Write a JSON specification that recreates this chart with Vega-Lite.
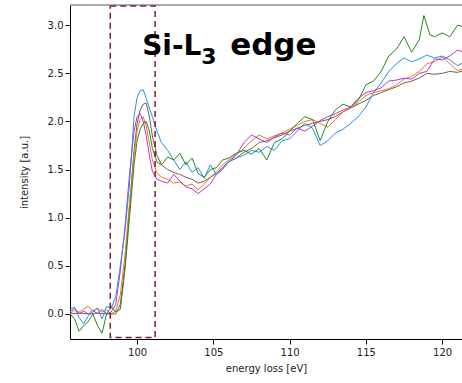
{
  "$schema": "https://vega.github.io/schema/vega-lite/v6.json",
  "width": 392,
  "height": 334,
  "autosize": {"type": "none"},
  "padding": {"left": 70, "top": 5, "right": 0, "bottom": 44},
  "background": "white",
  "config": {
    "view": {"stroke": null},
    "axis": {
      "grid": false,
      "domainColor": "#000",
      "tickColor": "#000",
      "tickSize": 5,
      "labelFont": "DejaVu Sans",
      "labelFontSize": 10,
      "labelColor": "#222",
      "titleFont": "DejaVu Sans",
      "titleFontSize": 10,
      "titleFontWeight": "normal",
      "titleColor": "#222"
    }
  },
  "datasets": {
    "spectra": [
      {"s":"brown","e":95.6,"v":0.0},{"s":"brown","e":96.2,"v":0.01},{"s":"brown","e":96.8,"v":0.0},{"s":"brown","e":97.4,"v":0.01},{"s":"brown","e":98.0,"v":0.0},{"s":"brown","e":98.6,"v":0.0},{"s":"brown","e":98.9,"v":0.1},{"s":"brown","e":99.2,"v":0.5},{"s":"brown","e":99.5,"v":1.1},{"s":"brown","e":99.8,"v":1.7},{"s":"brown","e":100.0,"v":1.98},{"s":"brown","e":100.2,"v":2.12},{"s":"brown","e":100.4,"v":2.18},{"s":"brown","e":100.6,"v":2.19},{"s":"brown","e":100.8,"v":2.05},{"s":"brown","e":101.0,"v":1.85},{"s":"brown","e":101.3,"v":1.65},{"s":"brown","e":101.6,"v":1.55},{"s":"brown","e":102.0,"v":1.5},{"s":"brown","e":102.4,"v":1.47},{"s":"brown","e":102.8,"v":1.45},{"s":"brown","e":103.2,"v":1.42},{"s":"brown","e":103.6,"v":1.4},{"s":"brown","e":104.0,"v":1.36},{"s":"brown","e":104.4,"v":1.38},{"s":"brown","e":104.8,"v":1.42},{"s":"brown","e":105.2,"v":1.46},{"s":"brown","e":105.6,"v":1.52},{"s":"brown","e":106.0,"v":1.58},{"s":"brown","e":106.5,"v":1.62},{"s":"brown","e":107.0,"v":1.68},{"s":"brown","e":107.5,"v":1.72},{"s":"brown","e":108.0,"v":1.78},{"s":"brown","e":108.5,"v":1.8},{"s":"brown","e":109.0,"v":1.83},{"s":"brown","e":109.5,"v":1.86},{"s":"brown","e":110.0,"v":1.9},{"s":"brown","e":110.5,"v":1.93},{"s":"brown","e":111.0,"v":1.96},{"s":"brown","e":111.5,"v":1.98},{"s":"brown","e":112.0,"v":2.0},{"s":"brown","e":112.5,"v":2.02},{"s":"brown","e":113.0,"v":2.05},{"s":"brown","e":113.5,"v":2.1},{"s":"brown","e":114.0,"v":2.14},{"s":"brown","e":114.5,"v":2.18},{"s":"brown","e":115.0,"v":2.22},{"s":"brown","e":115.5,"v":2.27},{"s":"brown","e":116.0,"v":2.3},{"s":"brown","e":116.5,"v":2.33},{"s":"brown","e":117.0,"v":2.36},{"s":"brown","e":117.5,"v":2.4},{"s":"brown","e":118.0,"v":2.42},{"s":"brown","e":118.5,"v":2.45},{"s":"brown","e":119.0,"v":2.5},{"s":"brown","e":119.5,"v":2.49},{"s":"brown","e":120.0,"v":2.5},{"s":"brown","e":120.5,"v":2.52},{"s":"brown","e":121.0,"v":2.51},{"s":"brown","e":121.5,"v":2.53},

      {"s":"orange","e":95.6,"v":0.0},{"s":"orange","e":95.9,"v":0.04},{"s":"orange","e":96.2,"v":0.02},{"s":"orange","e":96.5,"v":0.05},{"s":"orange","e":96.8,"v":0.08},{"s":"orange","e":97.1,"v":0.03},{"s":"orange","e":97.4,"v":0.06},{"s":"orange","e":97.7,"v":0.02},{"s":"orange","e":98.0,"v":0.04},{"s":"orange","e":98.3,"v":0.0},{"s":"orange","e":98.6,"v":0.03},{"s":"orange","e":98.9,"v":0.2},{"s":"orange","e":99.2,"v":0.6},{"s":"orange","e":99.5,"v":1.15},{"s":"orange","e":99.8,"v":1.65},{"s":"orange","e":100.0,"v":1.9},{"s":"orange","e":100.2,"v":2.02},{"s":"orange","e":100.4,"v":2.05},{"s":"orange","e":100.6,"v":1.95},{"s":"orange","e":100.8,"v":1.78},{"s":"orange","e":101.0,"v":1.6},{"s":"orange","e":101.3,"v":1.47},{"s":"orange","e":101.6,"v":1.42},{"s":"orange","e":102.0,"v":1.4},{"s":"orange","e":102.4,"v":1.36},{"s":"orange","e":102.8,"v":1.37},{"s":"orange","e":103.2,"v":1.33},{"s":"orange","e":103.6,"v":1.35},{"s":"orange","e":104.0,"v":1.29},{"s":"orange","e":104.4,"v":1.35},{"s":"orange","e":104.8,"v":1.42},{"s":"orange","e":105.2,"v":1.48},{"s":"orange","e":105.6,"v":1.55},{"s":"orange","e":106.0,"v":1.6},{"s":"orange","e":106.5,"v":1.66},{"s":"orange","e":107.0,"v":1.72},{"s":"orange","e":107.5,"v":1.8},{"s":"orange","e":108.0,"v":1.86},{"s":"orange","e":108.5,"v":1.82},{"s":"orange","e":109.0,"v":1.85},{"s":"orange","e":109.5,"v":1.88},{"s":"orange","e":110.0,"v":1.92},{"s":"orange","e":110.5,"v":1.96},{"s":"orange","e":111.0,"v":2.0},{"s":"orange","e":111.5,"v":2.02},{"s":"orange","e":112.0,"v":1.98},{"s":"orange","e":112.5,"v":1.94},{"s":"orange","e":113.0,"v":2.02},{"s":"orange","e":113.5,"v":2.1},{"s":"orange","e":114.0,"v":2.14},{"s":"orange","e":114.5,"v":2.2},{"s":"orange","e":115.0,"v":2.27},{"s":"orange","e":115.5,"v":2.3},{"s":"orange","e":116.0,"v":2.32},{"s":"orange","e":116.5,"v":2.34},{"s":"orange","e":117.0,"v":2.38},{"s":"orange","e":117.5,"v":2.44},{"s":"orange","e":118.0,"v":2.47},{"s":"orange","e":118.5,"v":2.52},{"s":"orange","e":119.0,"v":2.6},{"s":"orange","e":119.5,"v":2.62},{"s":"orange","e":120.0,"v":2.67},{"s":"orange","e":120.5,"v":2.6},{"s":"orange","e":121.0,"v":2.53},{"s":"orange","e":121.5,"v":2.55},

      {"s":"magenta","e":95.6,"v":0.02},{"s":"magenta","e":95.9,"v":0.06},{"s":"magenta","e":96.2,"v":0.0},{"s":"magenta","e":96.5,"v":0.03},{"s":"magenta","e":96.8,"v":0.0},{"s":"magenta","e":97.1,"v":0.04},{"s":"magenta","e":97.4,"v":0.0},{"s":"magenta","e":97.7,"v":0.05},{"s":"magenta","e":98.0,"v":0.0},{"s":"magenta","e":98.3,"v":0.02},{"s":"magenta","e":98.6,"v":0.1},{"s":"magenta","e":98.9,"v":0.45},{"s":"magenta","e":99.2,"v":0.9},{"s":"magenta","e":99.5,"v":1.45},{"s":"magenta","e":99.8,"v":1.9},{"s":"magenta","e":100.0,"v":2.05},{"s":"magenta","e":100.2,"v":2.08},{"s":"magenta","e":100.4,"v":2.0},{"s":"magenta","e":100.6,"v":1.85},{"s":"magenta","e":100.8,"v":1.65},{"s":"magenta","e":101.0,"v":1.48},{"s":"magenta","e":101.3,"v":1.4},{"s":"magenta","e":101.6,"v":1.38},{"s":"magenta","e":102.0,"v":1.36},{"s":"magenta","e":102.4,"v":1.45},{"s":"magenta","e":102.8,"v":1.38},{"s":"magenta","e":103.2,"v":1.32},{"s":"magenta","e":103.6,"v":1.3},{"s":"magenta","e":104.0,"v":1.25},{"s":"magenta","e":104.4,"v":1.3},{"s":"magenta","e":104.8,"v":1.35},{"s":"magenta","e":105.2,"v":1.45},{"s":"magenta","e":105.6,"v":1.52},{"s":"magenta","e":106.0,"v":1.58},{"s":"magenta","e":106.5,"v":1.65},{"s":"magenta","e":107.0,"v":1.78},{"s":"magenta","e":107.5,"v":1.86},{"s":"magenta","e":108.0,"v":1.82},{"s":"magenta","e":108.5,"v":1.78},{"s":"magenta","e":109.0,"v":1.84},{"s":"magenta","e":109.5,"v":1.88},{"s":"magenta","e":110.0,"v":1.86},{"s":"magenta","e":110.5,"v":1.93},{"s":"magenta","e":111.0,"v":1.9},{"s":"magenta","e":111.5,"v":1.95},{"s":"magenta","e":112.0,"v":2.01},{"s":"magenta","e":112.5,"v":2.05},{"s":"magenta","e":113.0,"v":2.08},{"s":"magenta","e":113.5,"v":2.12},{"s":"magenta","e":114.0,"v":2.15},{"s":"magenta","e":114.5,"v":2.24},{"s":"magenta","e":115.0,"v":2.3},{"s":"magenta","e":115.5,"v":2.32},{"s":"magenta","e":116.0,"v":2.35},{"s":"magenta","e":116.5,"v":2.42},{"s":"magenta","e":117.0,"v":2.43},{"s":"magenta","e":117.5,"v":2.45},{"s":"magenta","e":118.0,"v":2.44},{"s":"magenta","e":118.5,"v":2.5},{"s":"magenta","e":119.0,"v":2.52},{"s":"magenta","e":119.5,"v":2.65},{"s":"magenta","e":120.0,"v":2.64},{"s":"magenta","e":120.5,"v":2.68},{"s":"magenta","e":121.0,"v":2.74},{"s":"magenta","e":121.5,"v":2.72},

      {"s":"blue","e":95.6,"v":0.05},{"s":"blue","e":95.9,"v":0.07},{"s":"blue","e":96.2,"v":-0.04},{"s":"blue","e":96.5,"v":-0.1},{"s":"blue","e":96.8,"v":-0.02},{"s":"blue","e":97.1,"v":0.02},{"s":"blue","e":97.4,"v":0.06},{"s":"blue","e":97.7,"v":-0.05},{"s":"blue","e":98.0,"v":0.08},{"s":"blue","e":98.3,"v":0.06},{"s":"blue","e":98.6,"v":0.18},{"s":"blue","e":98.9,"v":0.5},{"s":"blue","e":99.2,"v":0.85},{"s":"blue","e":99.5,"v":1.35},{"s":"blue","e":99.8,"v":2.05},{"s":"blue","e":100.0,"v":2.25},{"s":"blue","e":100.2,"v":2.32},{"s":"blue","e":100.4,"v":2.33},{"s":"blue","e":100.6,"v":2.24},{"s":"blue","e":100.8,"v":2.14},{"s":"blue","e":101.0,"v":2.05},{"s":"blue","e":101.3,"v":1.9},{"s":"blue","e":101.6,"v":1.78},{"s":"blue","e":102.0,"v":1.7},{"s":"blue","e":102.4,"v":1.6},{"s":"blue","e":102.8,"v":1.5},{"s":"blue","e":103.2,"v":1.58},{"s":"blue","e":103.6,"v":1.47},{"s":"blue","e":104.0,"v":1.52},{"s":"blue","e":104.4,"v":1.41},{"s":"blue","e":104.8,"v":1.55},{"s":"blue","e":105.2,"v":1.45},{"s":"blue","e":105.6,"v":1.5},{"s":"blue","e":106.0,"v":1.58},{"s":"blue","e":106.5,"v":1.62},{"s":"blue","e":107.0,"v":1.65},{"s":"blue","e":107.5,"v":1.7},{"s":"blue","e":108.0,"v":1.68},{"s":"blue","e":108.5,"v":1.74},{"s":"blue","e":109.0,"v":1.7},{"s":"blue","e":109.5,"v":1.8},{"s":"blue","e":110.0,"v":1.82},{"s":"blue","e":110.5,"v":1.9},{"s":"blue","e":111.0,"v":1.98},{"s":"blue","e":111.5,"v":1.93},{"s":"blue","e":112.0,"v":1.75},{"s":"blue","e":112.5,"v":1.8},{"s":"blue","e":113.0,"v":1.88},{"s":"blue","e":113.5,"v":1.92},{"s":"blue","e":114.0,"v":1.98},{"s":"blue","e":114.5,"v":2.05},{"s":"blue","e":115.0,"v":2.15},{"s":"blue","e":115.5,"v":2.3},{"s":"blue","e":116.0,"v":2.4},{"s":"blue","e":116.5,"v":2.52},{"s":"blue","e":117.0,"v":2.6},{"s":"blue","e":117.5,"v":2.66},{"s":"blue","e":118.0,"v":2.62},{"s":"blue","e":118.5,"v":2.65},{"s":"blue","e":119.0,"v":2.69},{"s":"blue","e":119.5,"v":2.66},{"s":"blue","e":120.0,"v":2.68},{"s":"blue","e":120.5,"v":2.64},{"s":"blue","e":121.0,"v":2.58},{"s":"blue","e":121.5,"v":2.62},

      {"s":"green","e":95.6,"v":0.0},{"s":"green","e":95.9,"v":-0.05},{"s":"green","e":96.2,"v":-0.18},{"s":"green","e":96.5,"v":-0.12},{"s":"green","e":96.8,"v":-0.08},{"s":"green","e":97.1,"v":0.0},{"s":"green","e":97.4,"v":-0.12},{"s":"green","e":97.7,"v":-0.2},{"s":"green","e":98.0,"v":0.0},{"s":"green","e":98.3,"v":0.08},{"s":"green","e":98.6,"v":0.02},{"s":"green","e":98.9,"v":0.05},{"s":"green","e":99.2,"v":0.45},{"s":"green","e":99.5,"v":1.0},{"s":"green","e":99.8,"v":1.55},{"s":"green","e":100.0,"v":1.8},{"s":"green","e":100.2,"v":1.92},{"s":"green","e":100.4,"v":1.98},{"s":"green","e":100.6,"v":2.0},{"s":"green","e":100.8,"v":1.9},{"s":"green","e":101.0,"v":1.72},{"s":"green","e":101.3,"v":1.58},{"s":"green","e":101.6,"v":1.55},{"s":"green","e":102.0,"v":1.63},{"s":"green","e":102.4,"v":1.6},{"s":"green","e":102.8,"v":1.67},{"s":"green","e":103.2,"v":1.55},{"s":"green","e":103.6,"v":1.62},{"s":"green","e":104.0,"v":1.46},{"s":"green","e":104.4,"v":1.42},{"s":"green","e":104.8,"v":1.5},{"s":"green","e":105.2,"v":1.52},{"s":"green","e":105.6,"v":1.6},{"s":"green","e":106.0,"v":1.62},{"s":"green","e":106.5,"v":1.67},{"s":"green","e":107.0,"v":1.7},{"s":"green","e":107.5,"v":1.66},{"s":"green","e":108.0,"v":1.72},{"s":"green","e":108.5,"v":1.6},{"s":"green","e":109.0,"v":1.78},{"s":"green","e":109.5,"v":1.82},{"s":"green","e":110.0,"v":1.9},{"s":"green","e":110.5,"v":1.98},{"s":"green","e":111.0,"v":2.05},{"s":"green","e":111.5,"v":2.02},{"s":"green","e":112.0,"v":1.8},{"s":"green","e":112.5,"v":2.0},{"s":"green","e":113.0,"v":2.12},{"s":"green","e":113.5,"v":2.18},{"s":"green","e":114.0,"v":2.15},{"s":"green","e":114.5,"v":2.22},{"s":"green","e":115.0,"v":2.38},{"s":"green","e":115.5,"v":2.42},{"s":"green","e":116.0,"v":2.52},{"s":"green","e":116.5,"v":2.68},{"s":"green","e":117.0,"v":2.75},{"s":"green","e":117.5,"v":2.88},{"s":"green","e":118.0,"v":2.72},{"s":"green","e":118.5,"v":2.85},{"s":"green","e":118.8,"v":3.1},{"s":"green","e":119.2,"v":2.9},{"s":"green","e":119.5,"v":2.88},{"s":"green","e":120.0,"v":2.92},{"s":"green","e":120.5,"v":2.88},{"s":"green","e":121.0,"v":3.0},{"s":"green","e":121.5,"v":2.98}
    ]
  },
  "layer": [
    {
      "data": {"name": "spectra"},
      "mark": {"type": "line", "strokeWidth": 1, "clip": true},
      "encoding": {
        "x": {
          "field": "e", "type": "quantitative",
          "scale": {"domain": [95.6, 121.3], "nice": false, "zero": false},
          "axis": {"values": [100, 105, 110, 115, 120], "title": "energy loss [eV]", "labelPadding": 3, "titlePadding": 6}
        },
        "y": {
          "field": "v", "type": "quantitative",
          "scale": {"domain": [-0.26, 3.21], "nice": false, "zero": false},
          "axis": {"values": [0, 0.5, 1, 1.5, 2, 2.5, 3], "format": ".1f", "title": "intensity [a.u.]", "labelPadding": 2, "titlePadding": 18}
        },
        "color": {
          "field": "s", "type": "nominal",
          "scale": {"domain": ["brown", "orange", "magenta", "blue", "green"], "range": ["#7d5a45", "#ee7622", "#c42fd6", "#2b8fe6", "#23891f"]},
          "legend": null
        },
        "order": {"field": "e", "type": "quantitative"}
      }
    },
    {
      "data": {"values": [{}]},
      "mark": {"type": "rect", "fill": null, "fillOpacity": 0, "stroke": "#7a1f2b", "strokeWidth": 1.5, "strokeDash": [6, 4]},
      "encoding": {
        "x": {"datum": 98.24, "type": "quantitative"},
        "x2": {"datum": 101.18},
        "y": {"datum": -0.245, "type": "quantitative"},
        "y2": {"datum": 3.2}
      }
    },
    {
      "data": {"values": [{}]},
      "mark": {"type": "rule", "color": "#555", "strokeWidth": 1},
      "encoding": {"y": {"datum": 3.21, "type": "quantitative"}}
    },
    {
      "data": {"values": [{}]},
      "mark": {"type": "text", "text": "Si-L", "font": "DejaVu Sans", "fontWeight": "bold", "fontSize": 28, "align": "left", "baseline": "alphabetic", "color": "#000"},
      "encoding": {"x": {"datum": 100.33, "type": "quantitative"}, "y": {"datum": 2.69, "type": "quantitative"}}
    },
    {
      "data": {"values": [{}]},
      "mark": {"type": "text", "text": "3", "font": "DejaVu Sans", "fontWeight": "bold", "fontSize": 22, "align": "left", "baseline": "alphabetic", "color": "#000"},
      "encoding": {"x": {"datum": 104.2, "type": "quantitative"}, "y": {"datum": 2.6, "type": "quantitative"}}
    },
    {
      "data": {"values": [{}]},
      "mark": {"type": "text", "text": "edge", "font": "DejaVu Sans", "fontWeight": "bold", "fontSize": 31, "align": "left", "baseline": "alphabetic", "color": "#000"},
      "encoding": {"x": {"datum": 106.1, "type": "quantitative"}, "y": {"datum": 2.69, "type": "quantitative"}}
    }
  ]
}
